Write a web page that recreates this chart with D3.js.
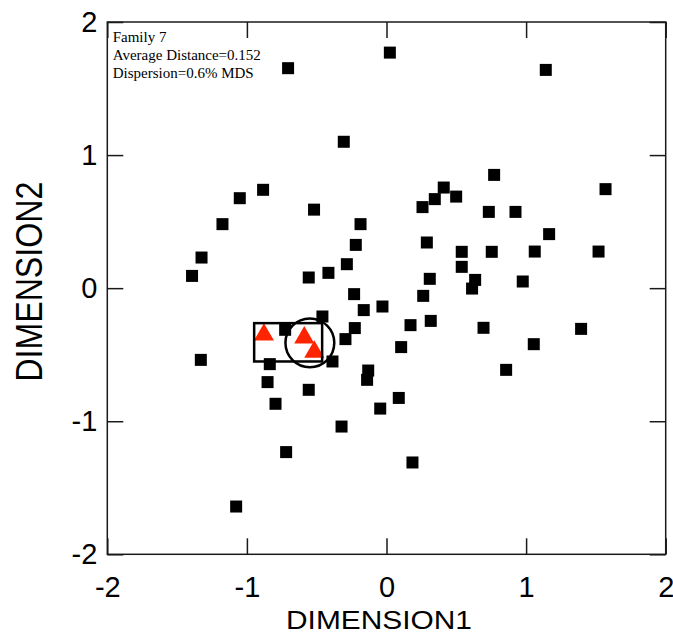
<!DOCTYPE html>
<html>
<head>
<meta charset="utf-8">
<script src="https://cdn.jsdelivr.net/npm/d3@7"></script>
<style>
  html, body { margin: 0; padding: 0; background: #fff; }
  svg { display: block; }
</style>
</head>
<body>
<svg id="chart" width="673" height="634"></svg>
<script>
// MDS configuration: every item of the collection (black squares)
const dim1 = [-0.705, 0.024, 1.141, -0.306, 0.771, 1.569, -0.884, 0.410, -1.051, 0.499,
  0.346, 0.258, -0.519, 0.733, 0.924, -1.175, -0.186, 1.165, -0.220, 0.289,
  -1.325, 0.539, 0.754, 1.062, 1.519, -0.284, 0.539, -1.393, -0.557, -0.416,
  0.310, 0.635, 0.613, 0.976, -0.232, 0.263, -0.163, -0.029, -0.459, 0.172,
  0.317, 0.695, 1.394, -0.227, -0.294, -0.726, 0.105, 1.055, -0.387, -0.836,
  -1.330, 0.857, -0.131, -0.139, -0.852, -0.557, -0.795, 0.088, -0.045, -0.322,
  -0.719, 0.186, -1.077];
const dim2 = [1.653, 1.770, 1.640, 1.100, 0.851, 0.744, 0.739, 0.756, 0.676, 0.688,
  0.669, 0.609, 0.590, 0.573, 0.573, 0.481, 0.481, 0.406, 0.325, 0.343,
  0.230, 0.273, 0.273, 0.275, 0.275, 0.180, 0.160, 0.092, 0.080, 0.115,
  0.070, 0.062, -0.003, 0.050, -0.045, -0.058, -0.165, -0.138, -0.213, -0.278,
  -0.246, -0.298, -0.306, -0.300, -0.383, -0.313, -0.443, -0.421, -0.551, -0.571,
  -0.539, -0.614, -0.619, -0.689, -0.706, -0.764, -0.869, -0.825, -0.905, -1.040,
  -1.232, -1.310, -1.641];

// Members of Family 7 (red triangles)
const familyDim1 = [-0.878, -0.589, -0.517];
const familyDim2 = [-0.343, -0.364, -0.471];

// Family extent box and centroid circle
const boxDim1 = [-0.948, -0.461];
const boxDim2 = [-0.551, -0.263];
const centroid = [-0.549, -0.411];
const centroidRadius = 0.175;

const ticks = [-2, -1, 0, 1, 2];
const tickLabels = ["-2", "-1", "0", "1", "2"];
const domain = [-2, 2];
const infoLines = ["Family 7", "Average Distance=0.152", "Dispersion=0.6% MDS"];

const W = 673, H = 634;
const margin = { left: 107.3, top: 22, right: 7.3, bottom: 79.7 };
const x = d3.scaleLinear().domain(domain).range([margin.left, W - margin.right]);
const y = d3.scaleLinear().domain(domain).range([H - margin.bottom, margin.top]);

const svg = d3.select("#chart");
const frameColor = "#1a1a1a";
const tickLen = 16;

// Frame
svg.append("rect")
  .attr("x", x(-2)).attr("y", y(2))
  .attr("width", x(2) - x(-2)).attr("height", y(-2) - y(2))
  .attr("fill", "none").attr("stroke", frameColor).attr("stroke-width", 1.5);

// Inward ticks on all four sides
const axisFont = "'Liberation Sans', Arial, sans-serif";
const label = d => tickLabels[ticks.indexOf(d)];
const axisB = d3.axisBottom(x).tickValues(ticks).tickSize(-tickLen).tickPadding(22).tickFormat(label);
const axisT = d3.axisTop(x).tickValues(ticks).tickSize(-tickLen).tickFormat("");
const axisL = d3.axisLeft(y).tickValues(ticks).tickSize(-tickLen).tickPadding(10).tickFormat(label);
const axisR = d3.axisRight(y).tickValues(ticks).tickSize(-tickLen).tickFormat("");

function styleAxis(g) {
  g.select(".domain").remove();
  g.selectAll(".tick line").attr("stroke", frameColor).attr("stroke-width", 1.5);
  g.selectAll(".tick text").attr("fill", "#000").style("font-family", axisFont).style("font-size", "29px");
}
svg.append("g").attr("transform", `translate(0,${y(-2)})`).call(axisB).call(styleAxis)
  .selectAll(".tick text").attr("dy", "0.71em");
svg.append("g").attr("transform", `translate(0,${y(2)})`).call(axisT).call(styleAxis);
svg.append("g").attr("transform", `translate(${x(-2)},0)`).call(axisL).call(styleAxis);
svg.append("g").attr("transform", `translate(${x(2)},0)`).call(axisR).call(styleAxis);

// Axis titles
svg.append("text")
  .attr("x", 379).attr("y", 629.3)
  .attr("text-anchor", "middle")
  .attr("textLength", 186).attr("lengthAdjust", "spacingAndGlyphs")
  .style("font-family", axisFont).style("font-size", "25px")
  .text("DIMENSION1");
svg.append("text")
  .attr("transform", "translate(41.5,281.7) rotate(-90)")
  .attr("text-anchor", "middle")
  .attr("textLength", 200).attr("lengthAdjust", "spacingAndGlyphs")
  .style("font-family", axisFont).style("font-size", "37px")
  .text("DIMENSION2");

// Squares for all items
const sq = 12;
svg.append("g").selectAll("rect")
  .data(d3.range(dim1.length))
  .join("rect")
  .attr("x", i => x(dim1[i]) - sq / 2)
  .attr("y", i => y(dim2[i]) - sq / 2)
  .attr("width", sq).attr("height", sq)
  .attr("fill", "#000");

// Red triangles for the family members
const tri = d3.symbol().type(d3.symbolTriangle).size(175);
svg.append("g").selectAll("path")
  .data(d3.range(familyDim1.length))
  .join("path")
  .attr("transform", i => `translate(${x(familyDim1[i])},${y(familyDim2[i]) + 1})`)
  .attr("d", tri)
  .attr("fill", "#ff2400");

// Extent box
svg.append("rect")
  .attr("x", x(boxDim1[0])).attr("y", y(boxDim2[1]))
  .attr("width", x(boxDim1[1]) - x(boxDim1[0]))
  .attr("height", y(boxDim2[0]) - y(boxDim2[1]))
  .attr("fill", "none").attr("stroke", "#000").attr("stroke-width", 2.5);

// Centroid circle
svg.append("circle")
  .attr("cx", x(centroid[0])).attr("cy", y(centroid[1]))
  .attr("r", x(centroidRadius) - x(0))
  .attr("fill", "none").attr("stroke", "#000").attr("stroke-width", 2.5);

// Info block
svg.append("text")
  .attr("x", 112.7).attr("y", 42.3)
  .style("font-family", "'Liberation Serif', 'Times New Roman', serif")
  .style("font-size", "15px")
  .selectAll("tspan")
  .data(infoLines)
  .join("tspan")
  .attr("x", 112.7)
  .attr("dy", (d, i) => i === 0 ? 0 : 17.7)
  .text(d => d);
</script>
</body>
</html>
